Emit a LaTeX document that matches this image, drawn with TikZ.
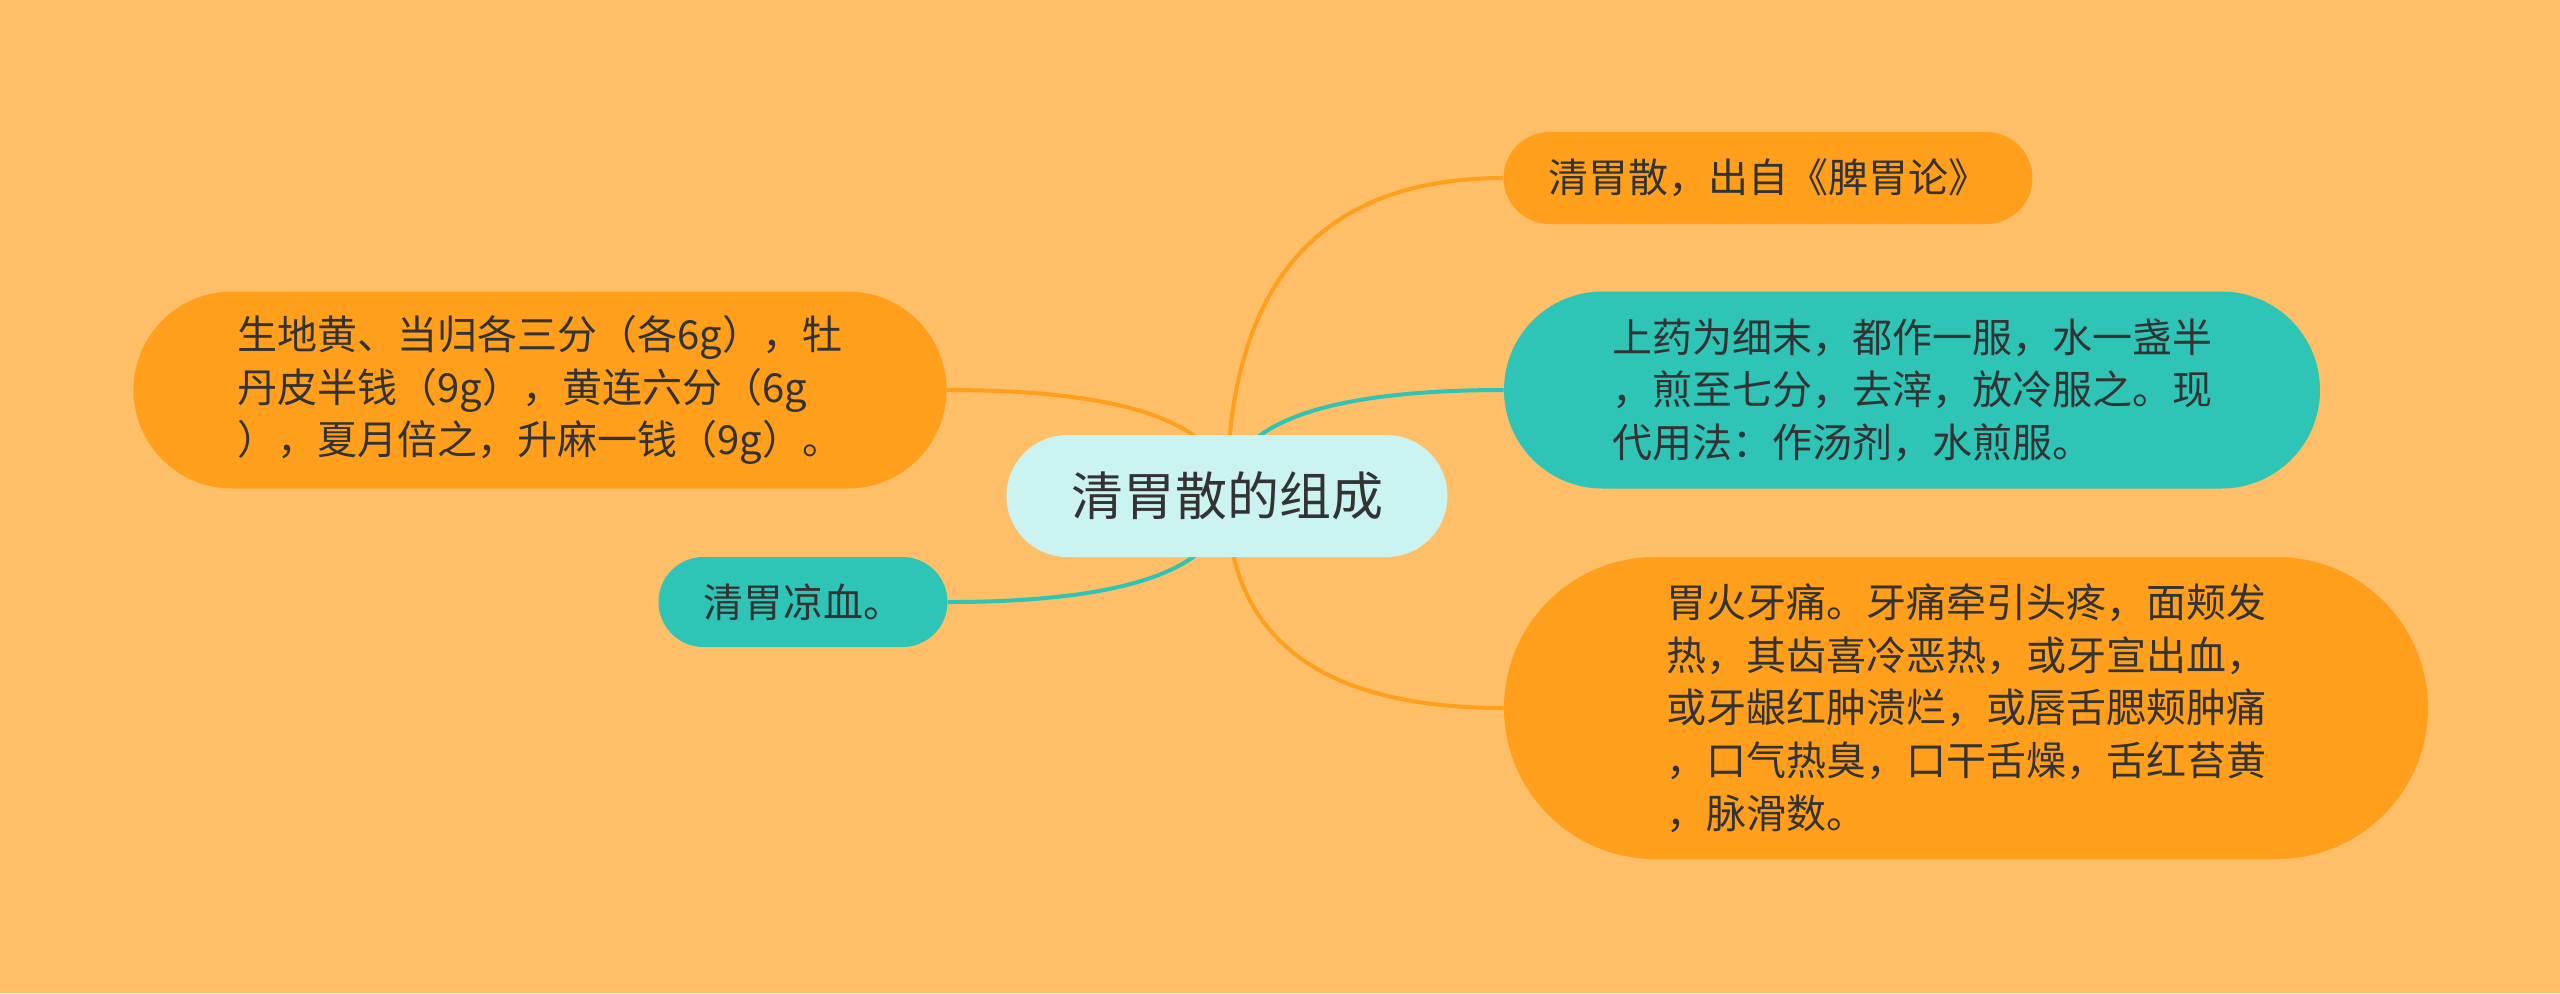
\documentclass[tikz,border=0pt]{standalone}
\usepackage{fontspec}
\setmainfont{Noto Sans CJK SC}
\usetikzlibrary{calc}
\definecolor{bgc}{HTML}{FFBF69}
\definecolor{org}{HTML}{FF9F1C}
\definecolor{tealc}{HTML}{2EC4B6}
\definecolor{lite}{HTML}{CBF3F0}
\definecolor{txt}{HTML}{333333}
\pgfdeclarelayer{bg}
\pgfdeclarelayer{edges}
\pgfsetlayers{bg,edges,main}
\begin{document}
\begin{tikzpicture}[x=0.5pt,y=-0.5pt,
  box/.style n args={4}{fill=#1, minimum width=#2pt, minimum height=#3pt,
    rounded corners=#4pt, inner sep=0pt, align=left, text=txt,
    font=\fontsize{20}{26.3}\selectfont},
  edge/.style={draw=#1, line width=2pt}]
\useasboundingbox (0,0) rectangle (2560,993);
\begin{pgfonlayer}{bg}
\fill[bgc] (0,0) rectangle (2560,993);
\end{pgfonlayer}

\node[box={lite}{220.5}{61}{30.5}, font=\fontsize{26}{30}\selectfont] (root) at (1227,496) {清胃散的组成};

\node[box={org}{264.5}{46}{23}] (n1) at (1768,178) {清胃散，出自《脾胃论》};
\node[box={tealc}{408}{98.5}{49.25}] (n2) at (1912,390)
  {上药为细末，都作一服，水一盏半\\，煎至七分，去滓，放冷服之。现\\代用法：作汤剂，水煎服。\hspace*{0pt}};
\node[box={org}{462}{151}{75.5}] (n3) at (1966,708)
  {胃火牙痛。牙痛牵引头疼，面颊发\\热，其齿喜冷恶热，或牙宣出血，\\或牙龈红肿溃烂，或唇舌腮颊肿痛\\，口气热臭，口干舌燥，舌红苔黄\\，脉滑数。};
\node[box={org}{406.5}{98.5}{49.25}] (n4) at (540,390)
  {生地黄、当归各三分（各6g），牡\\丹皮半钱（9g），黄连六分（6g\\），夏月倍之，升麻一钱（9g）。};
\node[box={tealc}{144.5}{45}{22.5}] (n5) at (803,602) {清胃凉血。};

\begin{pgfonlayer}{edges}
\foreach \t/\a/\c in {n1/west/org, n2/west/tealc, n3/west/org, n4/east/org, n5/east/tealc}{
  \coordinate (k) at (root.center |- \t.\a);
  \draw[edge=\c] (root.center) .. controls ($(root.center)!2/3!(k)$) and ($(\t.\a)!2/3!(k)$) .. (\t.\a);
}
\end{pgfonlayer}
\end{tikzpicture}
\end{document}
